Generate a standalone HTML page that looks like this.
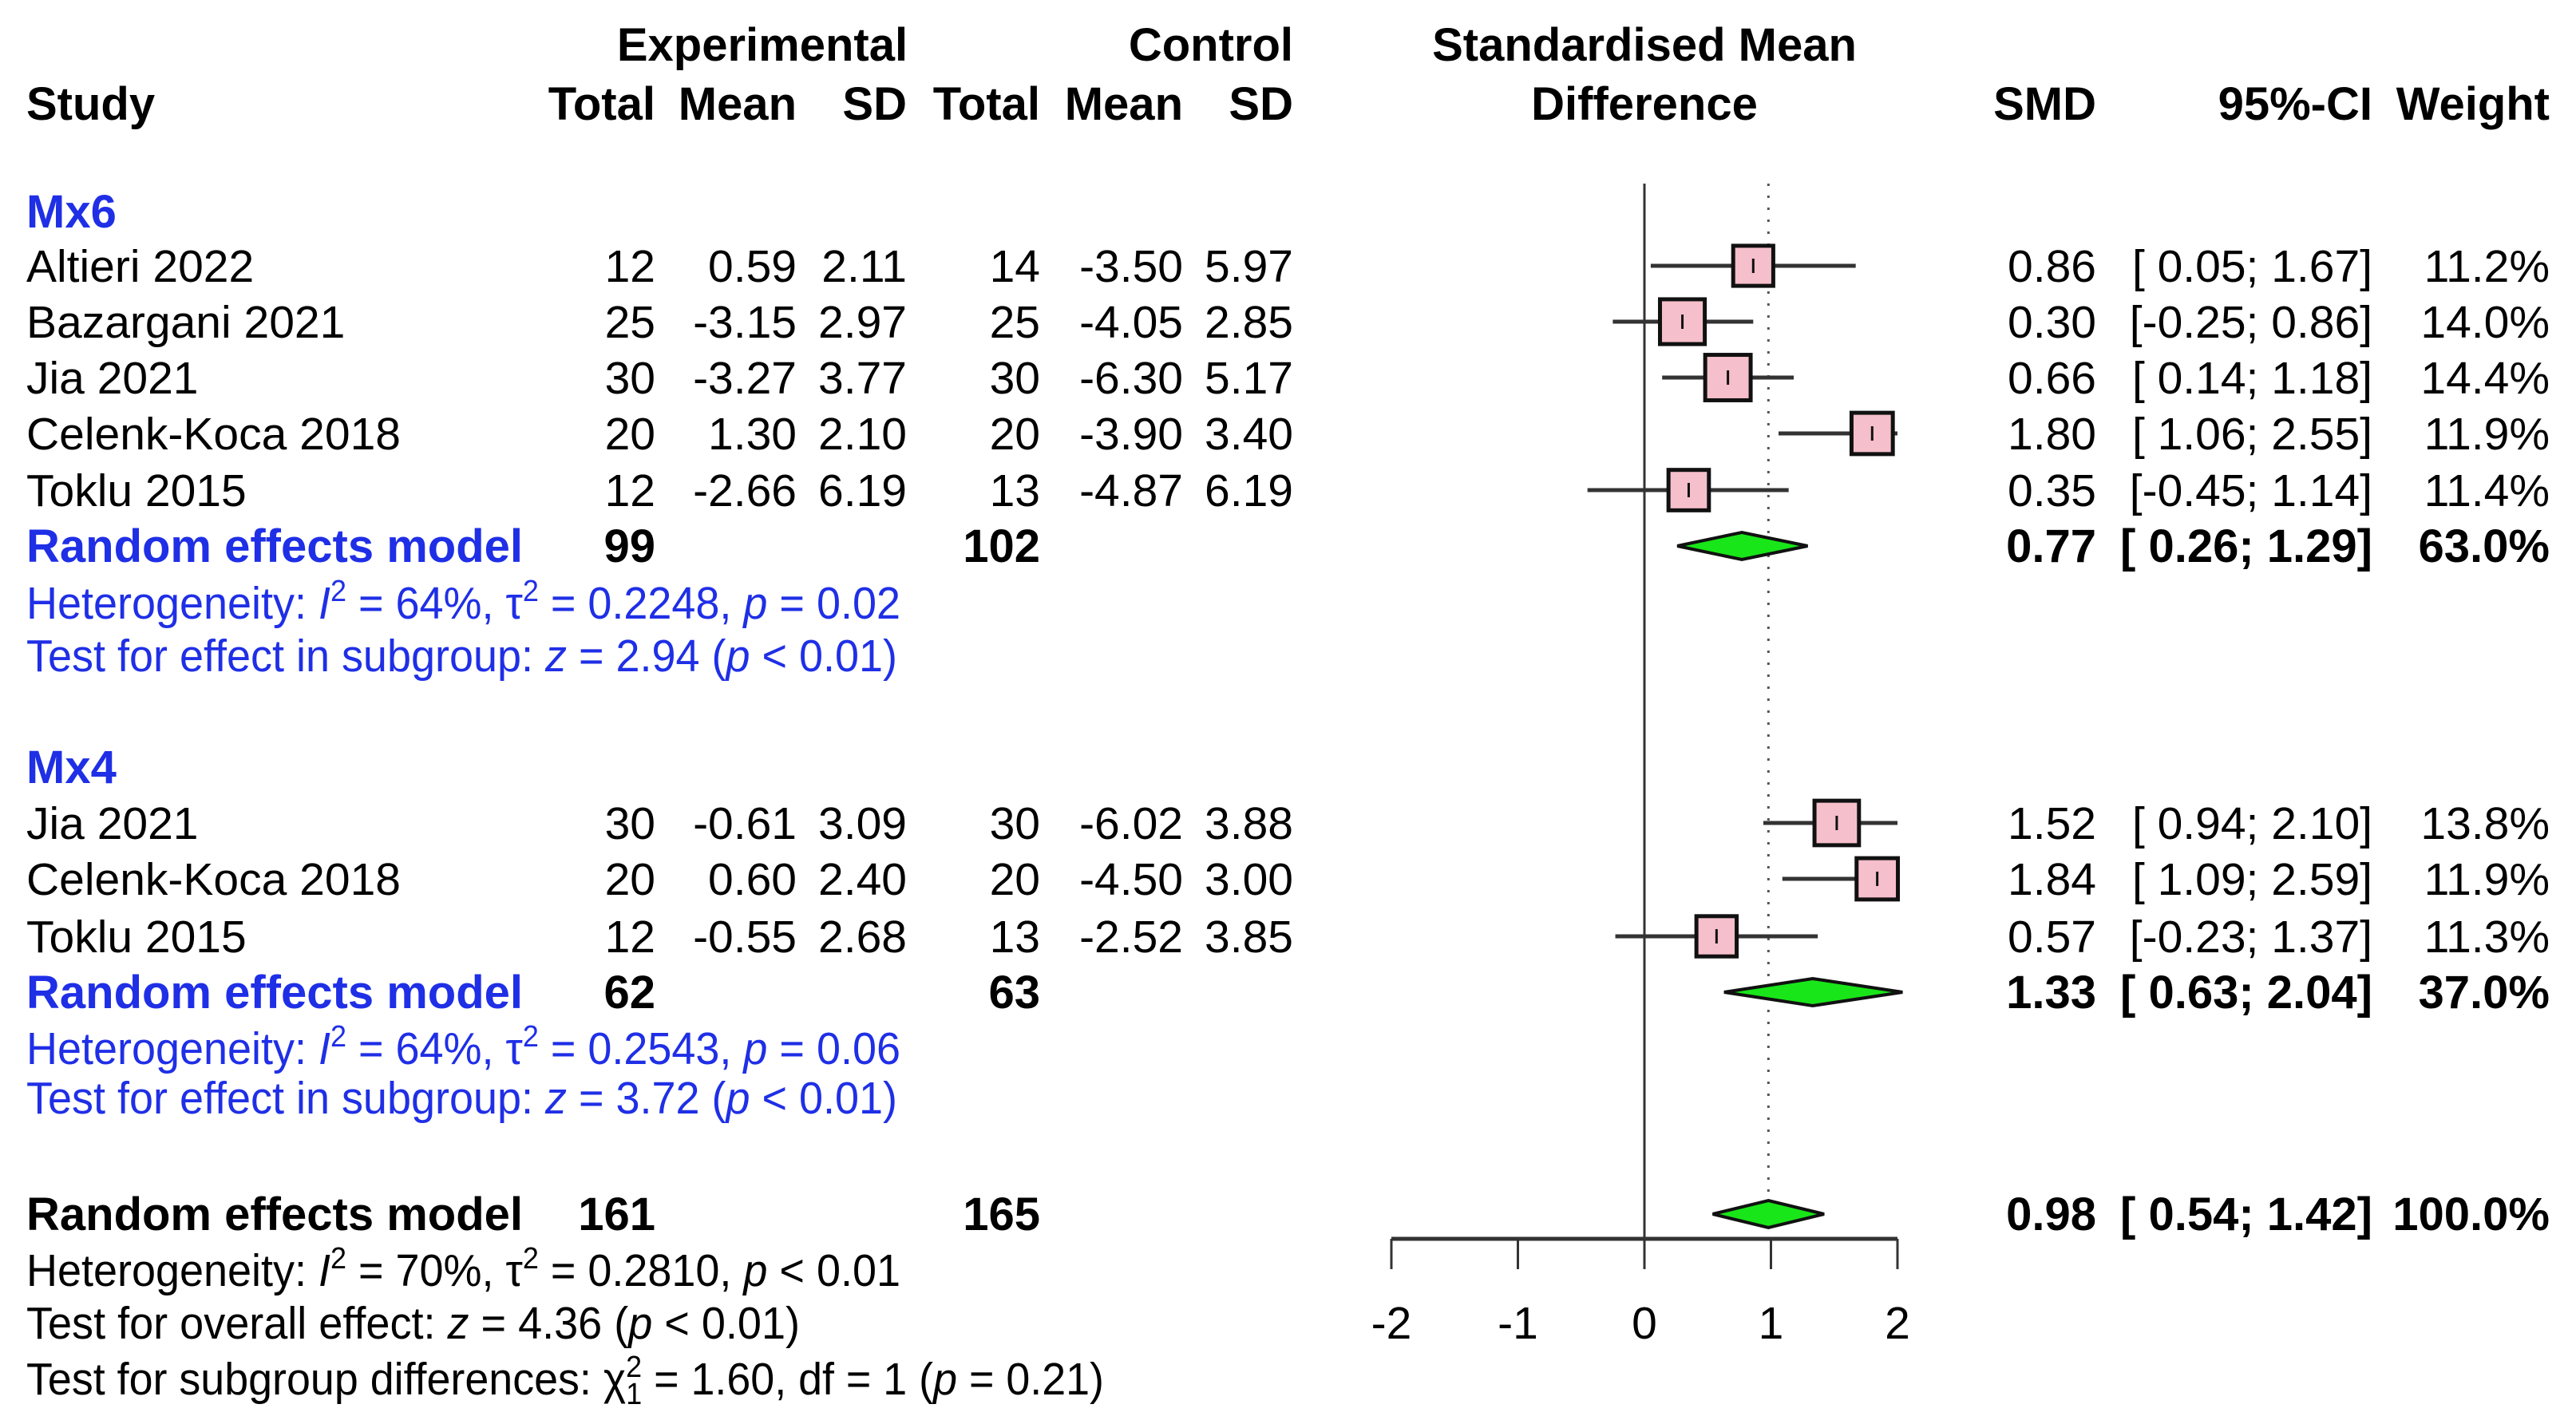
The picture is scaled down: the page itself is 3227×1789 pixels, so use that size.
<!DOCTYPE html>
<html><head><meta charset="utf-8"><style>
html,body{margin:0;padding:0;background:#fff;}
svg{display:block;}
text{font-family:"Liberation Sans",Arial,sans-serif;font-size:57px;fill:#000;}
.b{font-weight:bold;font-size:58px;}
.blue{fill:#1f2fe6;}
.e{text-anchor:end;}
.m{text-anchor:middle;}
</style></head><body>
<svg id="plot" width="3227" height="1789" viewBox="0 0 3227 1789" xmlns="http://www.w3.org/2000/svg">
<g>
<text class="b m" x="955" y="76">Experimental</text>
<text class="b e" x="1620" y="76">Control</text>
<text class="b m" x="2060" y="76">Standardised Mean</text>
<text class="b" x="33" y="150">Study</text>
<text class="b e" x="821" y="150">Total</text>
<text class="b e" x="998" y="150">Mean</text>
<text class="b e" x="1136" y="150">SD</text>
<text class="b e" x="1303" y="150">Total</text>
<text class="b e" x="1482" y="150">Mean</text>
<text class="b e" x="1620" y="150">SD</text>
<text class="b m" x="2060" y="150">Difference</text>
<text class="b e" x="2626" y="150">SMD</text>
<text class="b e" x="2972" y="150">95%-CI</text>
<text class="b e" x="3194" y="150">Weight</text>
</g>
<g id="rows"></g>
<g>
<text class="b blue" x="33" y="285">Mx6</text>
<text class="b blue" x="33" y="981">Mx4</text>
<text class="blue" x="33" y="775" textLength="1095" lengthAdjust="spacingAndGlyphs">Heterogeneity: <tspan font-style="italic">I</tspan><tspan dy="-22" font-size="38">2</tspan><tspan dy="22"> = 64%, τ</tspan><tspan dy="-22" font-size="38">2</tspan><tspan dy="22"> = 0.2248, </tspan><tspan font-style="italic">p</tspan> = 0.02</text>
<text class="blue" x="33" y="841" textLength="1091" lengthAdjust="spacingAndGlyphs">Test for effect in subgroup: <tspan font-style="italic">z</tspan> = 2.94 (<tspan font-style="italic">p</tspan> &lt; 0.01)</text>
<text class="blue" x="33" y="1333" textLength="1095" lengthAdjust="spacingAndGlyphs">Heterogeneity: <tspan font-style="italic">I</tspan><tspan dy="-22" font-size="38">2</tspan><tspan dy="22"> = 64%, τ</tspan><tspan dy="-22" font-size="38">2</tspan><tspan dy="22"> = 0.2543, </tspan><tspan font-style="italic">p</tspan> = 0.06</text>
<text class="blue" x="33" y="1395" textLength="1091" lengthAdjust="spacingAndGlyphs">Test for effect in subgroup: <tspan font-style="italic">z</tspan> = 3.72 (<tspan font-style="italic">p</tspan> &lt; 0.01)</text>
<text x="33" y="1611" textLength="1095" lengthAdjust="spacingAndGlyphs">Heterogeneity: <tspan font-style="italic">I</tspan><tspan dy="-22" font-size="38">2</tspan><tspan dy="22"> = 70%, τ</tspan><tspan dy="-22" font-size="38">2</tspan><tspan dy="22"> = 0.2810, </tspan><tspan font-style="italic">p</tspan> &lt; 0.01</text>
<text x="33" y="1677" textLength="969" lengthAdjust="spacingAndGlyphs">Test for overall effect: <tspan font-style="italic">z</tspan> = 4.36 (<tspan font-style="italic">p</tspan> &lt; 0.01)</text>
<text x="33" y="1747" textLength="1350" lengthAdjust="spacingAndGlyphs">Test for subgroup differences: χ<tspan dy="-22" font-size="38">2</tspan><tspan dy="34" dx="-21" font-size="38">1</tspan><tspan dy="-12"> = 1.60, df = 1 (</tspan><tspan font-style="italic">p</tspan> = 0.21)</text>
</g>
<g id="axis"></g>
</svg>
<script>
const studies = ["Altieri 2022","Bazargani 2021","Jia 2021","Celenk-Koca 2018","Toklu 2015","Jia 2021","Celenk-Koca 2018","Toklu 2015"];
const expN = [12,25,30,20,12,30,20,12];
const expMean = ["0.59","-3.15","-3.27","1.30","-2.66","-0.61","0.60","-0.55"];
const expSD = ["2.11","2.97","3.77","2.10","6.19","3.09","2.40","2.68"];
const ctlN = [14,25,30,20,13,30,20,13];
const ctlMean = ["-3.50","-4.05","-6.30","-3.90","-4.87","-6.02","-4.50","-2.52"];
const ctlSD = ["5.97","2.85","5.17","3.40","6.19","3.88","3.00","3.85"];
const smd = [0.86,0.30,0.66,1.80,0.35,1.52,1.84,0.57];
const lower = [0.05,-0.25,0.14,1.06,-0.45,0.94,1.09,-0.23];
const upper = [1.67,0.86,1.18,2.55,1.14,2.10,2.59,1.37];
const weight = [11.2,14.0,14.4,11.9,11.4,13.8,11.9,11.3];
const pooledLabel = ["Random effects model","Random effects model","Random effects model"];
const pooledExpN = [99,62,161];
const pooledCtlN = [102,63,165];
const pooledSmd = [0.77,1.33,0.98];
const pooledLower = [0.26,0.63,0.54];
const pooledUpper = [1.29,2.04,1.42];
const pooledWeight = [63.0,37.0,100.0];
const ticks = [-2,-1,0,1,2];

const NS="http://www.w3.org/2000/svg";
const x0=2060, unit=158.5, xmin=-2, xmax=2;
function X(v){return x0+v*unit;}
function clipX(v){return X(Math.max(xmin,Math.min(xmax,v)));}
const rowY=[333,403,473,543,614,1031,1101,1173];
const pooledY=[684,1243,1521];
const rows=document.getElementById('rows');
function el(tag,attrs,parent){const e=document.createElementNS(NS,tag);for(const k in attrs)e.setAttribute(k,attrs[k]);(parent||rows).appendChild(e);return e;}
function txt(s,x,y,cls,parent){const t=el('text',{x:x,y:y,class:cls},parent);t.textContent=s;return t;}
function f2(v){return v.toFixed(2);}
function ci(l,u){const a=l<0?f2(l):" "+f2(l);return "["+a+"; "+f2(u)+"]";}

const zl=el('line',{x1:X(0),x2:X(0),y1:230,y2:1552,stroke:'#333','stroke-width':3});


const dl=el('line',{x1:X(pooledSmd[2]),x2:X(pooledSmd[2]),y1:230,y2:1552,stroke:'#555','stroke-width':3,'stroke-dasharray':'3 12'});



for(let i=0;i<studies.length;i++){
  const y=rowY[i], b=y+20;
  const g=el('g',{});
  
  
  txt(studies[i],33,b,'',g);
  txt(String(expN[i]),821,b,'e',g);
  txt(expMean[i],998,b,'e',g);
  txt(expSD[i],1136,b,'e',g);
  txt(String(ctlN[i]),1303,b,'e',g);
  txt(ctlMean[i],1482,b,'e',g);
  txt(ctlSD[i],1620,b,'e',g);
  txt(f2(smd[i]),2626,b,'e',g);
  txt(ci(lower[i],upper[i]),2972,b,'e',g);
  txt(weight[i].toFixed(1)+"%",3194,b,'e',g);
  const l=el('line',{x1:clipX(lower[i]),x2:clipX(upper[i]),y1:y,y2:y,stroke:'#333','stroke-width':5},g);
  
  
  const s=15*Math.sqrt(weight[i]);
  const r=el('rect',{x:X(smd[i])-s/2,y:y-s/2,width:s,height:s,fill:'#f5bfcb',stroke:'#111','stroke-width':5},g);
  
  
  const c=el('line',{x1:X(smd[i]),x2:X(smd[i]),y1:y-9,y2:y+9,stroke:'#111','stroke-width':3},g);
  
  
}
for(let k=0;k<3;k++){
  const y=pooledY[k], b=y+20;
  const g=el('g',{});
  
  
  const cls=k<2?'b blue':'b';
  txt(pooledLabel[k],33,b,cls,g);
  txt(String(pooledExpN[k]),821,b,'b e',g);
  txt(String(pooledCtlN[k]),1303,b,'b e',g);
  txt(f2(pooledSmd[k]),2626,b,'b e',g);
  txt(ci(pooledLower[k],pooledUpper[k]),2972,b,'b e',g);
  txt(pooledWeight[k].toFixed(1)+"%",3194,b,'b e',g);
  const h=17;
  const d=el('polygon',{points:[X(pooledLower[k])+','+y,X(pooledSmd[k])+','+(y-h),X(pooledUpper[k])+','+y,X(pooledSmd[k])+','+(y+h)].join(' '),fill:'#19e619',stroke:'#111','stroke-width':4},g);
  
  
}
const ax=document.getElementById('axis');
const al=el('line',{x1:X(xmin),x2:X(xmax),y1:1552,y2:1552,stroke:'#333','stroke-width':5},ax);


for(const t of ticks){
  const tl=el('line',{x1:X(t),x2:X(t),y1:1552,y2:1590,stroke:'#333','stroke-width':3},ax);
  
  
  const tt=txt(String(t),X(t),1677,'m',ax);
  
  
}
</script>
</body></html>
